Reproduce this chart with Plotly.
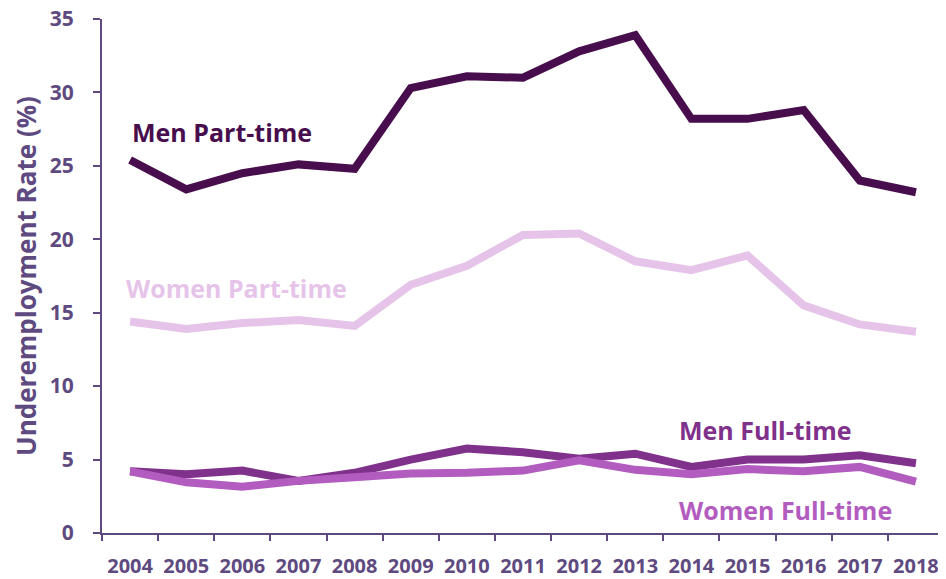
import plotly.graph_objects as go

years = ["2004", "2005", "2006", "2007", "2008", "2009", "2010", "2011",
         "2012", "2013", "2014", "2015", "2016", "2017", "2018"]
men_part = [25.4, 23.4, 24.5, 25.1, 24.8, 30.3, 31.1, 31.0, 32.8, 33.9, 28.2, 28.2, 28.8, 24.0, 23.2]
women_part = [14.4, 13.9, 14.3, 14.5, 14.1, 16.9, 18.2, 20.3, 20.4, 18.5, 17.9, 18.9, 15.5, 14.2, 13.7]
men_full = [4.2, 4.0, 4.25, 3.55, 4.1, 5.0, 5.75, 5.5, 5.05, 5.4, 4.5, 5.0, 5.0, 5.3, 4.75]
women_full = [4.2, 3.45, 3.15, 3.55, 3.8, 4.05, 4.1, 4.25, 4.95, 4.3, 4.0, 4.35, 4.2, 4.5, 3.5]

series = [
    ("Men Part-time", men_part, "#470d4c"),
    ("Women Part-time", women_part, "#e6c4e9"),
    ("Men Full-time", men_full, "#80318b"),
    ("Women Full-time", women_full, "#b25cc0"),
]

axis_color = "#5e4a80"
font_family = "Open Sans, Liberation Sans, sans-serif"

fig = go.Figure()
for name, vals, col in series:
    fig.add_trace(go.Scatter(x=years, y=vals, mode="lines", name=name,
                             line=dict(color=col, width=8)))

# label text, category index, y value, colour, horizontal nudge
labels = [
    ("Men Part-time", 0, 27.3, "#470d4c", 0),
    ("Women Part-time", 0, 16.7, "#e6c4e9", -6),
    ("Men Full-time", 10, 7.0, "#80318b", -14),
    ("Women Full-time", 10, 1.6, "#b25cc0", -14),
]
for text, xv, yv, col, dx in labels:
    fig.add_annotation(x=xv, y=yv, xref="x", yref="y", text="<b>" + text + "</b>",
                       showarrow=False, xanchor="left", xshift=dx, yanchor="middle",
                       font=dict(family=font_family, size=25, color=col))

# page body has an 8px margin, so the figure is sized/offset to compensate
fig.update_layout(
    width=938, height=571,
    margin=dict(l=94, r=2, t=11, b=46),
    plot_bgcolor="white", paper_bgcolor="white",
    showlegend=False,
    font=dict(family=font_family, color=axis_color),
)
fig.update_xaxes(
    type="category", range=[-0.5, 14.5], tickson="boundaries", automargin=False,
    showline=True, linecolor=axis_color, linewidth=2, tickangle=0,
    ticks="outside", ticklen=6, tickcolor=axis_color, tickwidth=2,
    showgrid=False, ticklabelstandoff=14, ticklabeloverflow="allow",
    tickfont=dict(family=font_family, size=20, color=axis_color),
    tickprefix="<b>", ticksuffix="</b>",
)
fig.update_yaxes(
    range=[0, 35], dtick=5, automargin=False,
    showline=True, linecolor=axis_color, linewidth=2,
    ticks="outside", ticklen=7, tickcolor=axis_color, tickwidth=2,
    showgrid=False, zeroline=False, ticklabelstandoff=15, ticklabeloverflow="allow",
    tickfont=dict(family=font_family, size=21, color=axis_color),
    tickprefix="<b>", ticksuffix="</b>",
    title=dict(text="<b>Underemployment Rate (%)</b>", standoff=12,
               font=dict(family=font_family, size=26, color=axis_color)),
)

fig.write_html("out.html")
